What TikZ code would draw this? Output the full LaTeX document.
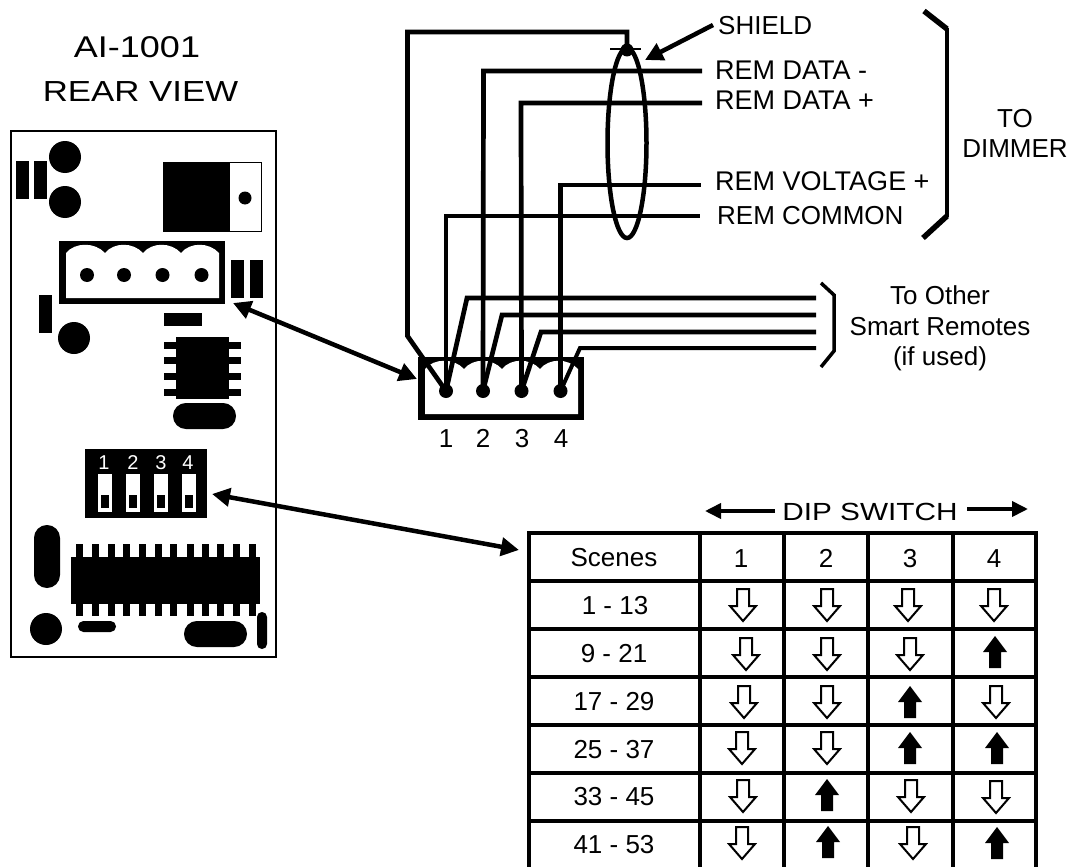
\documentclass[tikz,border=0pt]{standalone}
\usepackage{fontspec}
\setmainfont{Liberation Sans}
\newfontfamily\widefont[FakeStretch=1.2]{Liberation Sans}
\usetikzlibrary{arrows.meta}
\tikzset{
  blk/.style={fill=black,draw=none},
  lbl/.style={inner sep=0pt,font=\fontsize{26}{30}\selectfont},
  lblw/.style={lbl,anchor=base west},
  lblwl/.style={inner sep=0pt,anchor=base west,font=\fontsize{27}{30}\selectfont},
  lblc/.style={lbl,anchor=base},
  widelbl/.style={inner sep=0pt,anchor=base},
  dipnum/.style={inner sep=0pt,anchor=base,text=white,font=\fontsize{20}{22}\selectfont},
  wire/.style={line width=4.7pt},
  wirethin/.style={line width=4pt},
  tbl/.style={line width=4pt},
  ptr/.style={line width=4.5pt,-{Triangle[length=18pt,width=18pt]}},
  ptrboth/.style={line width=4.5pt,{Triangle[length=18pt,width=18pt]}-{Triangle[length=18pt,width=18pt]}},
  dimarrow/.style={line width=3.7pt,-{Triangle[length=16pt,width=15pt]}},
  dnsw/.pic={\draw[line width=2pt,fill=white,line join=miter] (-6,0) -- (6,0) -- (6,17) -- (13,17) -- (0,32) -- (-13,17) -- (-6,17) -- cycle;},
  upsw/.pic={\fill[black] (0,0) -- (12,16) -- (6,16) -- (6,32) -- (-6,32) -- (-6,16) -- (-12,16) -- cycle;},
  plug/.pic={
    \fill[black] (0,0) rectangle (166,63);
    \fill[white] (7,12) .. controls (16,1) and (36,1) .. (46,12)
      .. controls (55,1) and (74,1) .. (84,12)
      .. controls (93,1) and (112,1) .. (122,12)
      .. controls (131,1) and (150,1) .. (160,12)
      -- (160,57) -- (7,57) -- cycle;
    \coordinate (-h1) at (28,34);
    \coordinate (-h2) at (65,34);
    \coordinate (-h3) at (103.5,34);
    \coordinate (-h4) at (142.5,34);
    \foreach \hn in {h1,h2,h3,h4} \fill[black] (-\hn) circle[radius=7pt];
  }
}
\begin{document}
\begin{tikzpicture}[x=1pt,y=-1pt]
\useasboundingbox (0,0) rectangle (1071,867);

% Title
\node[widelbl,font=\widefont\fontsize{30}{34}\selectfont] (title1) at (137,58) {AI-1001};
\node[widelbl,font=\widefont\fontsize{29}{34}\selectfont] (title2) at (140.5,102) {REAR VIEW};

% Board
\draw[line width=2pt] (11,131) rectangle (276,657);
\fill[blk] (65,157) circle[radius=16pt];
\fill[blk] (65,202) circle[radius=16pt];
\fill[blk] (16,161) rectangle (29,199);
\fill[blk] (34,161) rectangle (47,199);
\fill[blk] (163,162) rectangle (229,232);
\draw[line width=1.5pt] (229,162.5) rectangle (261.5,231.5);
\fill[blk] (245,198) circle[radius=6.5pt];
\pic (lp) at (59,241) {plug};
\fill[blk] (231,260) rectangle (244,298);
\fill[blk] (250,260) rectangle (263,298);
\fill[blk] (39,295) rectangle (52,333);
\fill[blk] (164,313) rectangle (202,326);
\fill[blk] (74,338) circle[radius=16pt];
\fill[blk] (176,337) rectangle (229,399);
\foreach \py in {342,357,373,389} \fill[blk] (164,\py) rectangle (241,\py+7);
\fill[blk,rounded corners=12.9pt] (173,403) rectangle (236,429);

% DIP block
\fill[blk] (85,449) rectangle (207,518);
\foreach \dx in {98,126,154,182}{
  \fill[white] (\dx,474) rectangle (\dx+14,512);
  \fill[blk] (\dx+3,495) rectangle (\dx+11,508);
}
\node[dipnum] (dn1) at (104,469) {1};
\node[dipnum] (dn2) at (133,469) {2};
\node[dipnum] (dn3) at (161,469) {3};
\node[dipnum] (dn4) at (188,469) {4};

\fill[blk,rounded corners=12.9pt] (34,525) rectangle (60,588);
\fill[blk] (71,557) rectangle (260,604);
\foreach \px in {79.3,95.3,111.3,126.7,142,158.3,173.7,190,205.7,220.7,236.7,252.7}{
  \fill[blk] (\px-3.5,544) rectangle (\px+3.5,557);
  \fill[blk] (\px-3.5,604) rectangle (\px+3.5,616);
}
\fill[blk] (46,629) circle[radius=16pt];
\fill[blk,rounded corners=5.4pt] (78,621) rectangle (116,632);
\fill[blk,rounded corners=12.9pt] (184,621) rectangle (247,647);
\fill[blk,rounded corners=4.9pt] (257,612) rectangle (267,649);

% Right connector
\pic (rp) at (418,357) {plug};

% Named ends
\coordinate (shielddot) at (627,50);
\coordinate (eDm) at (702,71);
\coordinate (eDp) at (702,103);
\coordinate (eV) at (701,185);
\coordinate (eC) at (700,216);
\coordinate (o1) at (816,298);
\coordinate (o2) at (816,315);
\coordinate (o3) at (816,332);
\coordinate (o4) at (816,348);
\coordinate (lptip) at (233,303);
\coordinate (rptip) at (417,379);
\coordinate (diptip) at (212,494);
\coordinate (tabtip) at (519,550);
\coordinate (shieldtip) at (645,60);

% Wires
\draw[wire] (rp-h1) -- (407.5,336) -- (407.5,32) -- (627,32) -- (shielddot);
\draw[wire] (rp-h2) -- (483.5,71) -- (eDm);
\draw[wire] (rp-h3) -- (521,103) -- (eDp);
\draw[wire] (rp-h4) -- (560.5,185) -- (eV);
\draw[wire] (rp-h1) -- (446,216) -- (eC);
\draw[wire] (rp-h1) -- (467,298) -- (o1);
\draw[wire] (rp-h2) -- (502,315) -- (o2);
\draw[wire] (rp-h3) -- (541,332) -- (o3);
\draw[wirethin] (rp-h4) -- (580,348) -- (o4);

% Shield
\draw[line width=4.5pt] (627,143) ellipse[x radius=19.5pt,y radius=95pt];
\fill[blk] (shielddot) circle[radius=6.5pt];
\draw[line width=2pt] (610,49.5) -- (641,49.5);

% Labels
\node[lblw] (lshield) at (718,35) {SHIELD};
\node[lblwl] (ldm) at (715,79) {REM DATA -};
\node[lblwl] (ldp) at (715,109) {REM DATA +};
\node[lblwl] (lv) at (715,190) {REM VOLTAGE +};
\node[lblw] (lc) at (717,224) {REM COMMON};
\node[lblc] (lto) at (1015,127) {TO};
\node[lblc] (ldim) at (1015,157) {DIMMER};
\node[lblc] (lo1) at (940,304) {To Other};
\node[lblc] (lo2) at (940,335) {Smart Remotes};
\node[lblc] (lo3) at (940,365) {(if used)};
\node[lblc] (pn1) at (446,447) {1};
\node[lblc] (pn2) at (483,447) {2};
\node[lblc] (pn3) at (522,447) {3};
\node[lblc] (pn4) at (561,447) {4};

% Pointers
\draw[ptr] (713,25) -- (shieldtip);
\draw[ptrboth] (lptip) -- (rptip);
\draw[ptrboth] (diptip) -- (tabtip);

% Brackets
\draw[line width=5.5pt] (924,11) -- (947,29);
\draw[line width=4pt] (947,28) -- (947,217);
\draw[line width=5.5pt] (947,216) -- (923,238);
\draw[line width=3.5pt] (821,283) -- (834,295) -- (834,351) -- (821,367);

% DIP switch heading
\node[widelbl,font=\widefont\fontsize{24.8}{30}\selectfont] (diphead) at (870,520) {DIP SWITCH};
\coordinate (dhL) at (705,511);
\coordinate (dhR) at (1028,509);
\draw[dimarrow] (775,511) -- (dhL);
\draw[dimarrow] (967,509) -- (dhR);

% Table
\foreach \ty in {533,581,629,677,725,773,821} \draw[tbl] (527,\ty) -- (1038,\ty);
\foreach \tx in {529,700,784,868,953,1036} \draw[tbl] (\tx,531) -- (\tx,867);

\node[lblc] (th0) at (614,566) {Scenes};
\node[lblc] (th1) at (741,567) {1};
\node[lblc] (th2) at (826,567) {2};
\node[lblc] (th3) at (910,567) {3};
\node[lblc] (th4) at (994,567) {4};
\node[lblc] (r1) at (615,614) {1 - 13};
\node[lblc] (r2) at (614,662) {9 - 21};
\node[lblc] (r3) at (614,710) {17 - 29};
\node[lblc] (r4) at (614,758) {25 - 37};
\node[lblc] (r5) at (614,805) {33 - 45};
\node[lblc] (r6) at (614,853) {41 - 53};

\pic at (743,589) {dnsw}; \pic at (827,589) {dnsw}; \pic at (908,589) {dnsw}; \pic at (994,589) {dnsw};
\pic at (746,638) {dnsw}; \pic at (827,638) {dnsw}; \pic at (910,638) {dnsw}; \pic at (995,636) {upsw};
\pic at (744,686) {dnsw}; \pic at (827,686) {dnsw}; \pic at (910,686) {upsw}; \pic at (996,686) {dnsw};
\pic at (742,732) {dnsw}; \pic at (827,732) {dnsw}; \pic at (910,732) {upsw}; \pic at (997,732) {upsw};
\pic at (743,780) {dnsw}; \pic at (827,779) {upsw}; \pic at (911,780) {dnsw}; \pic at (996,781) {dnsw};
\pic at (742,827) {dnsw}; \pic at (828,826) {upsw}; \pic at (913,827) {dnsw}; \pic at (997,827) {upsw};
\end{tikzpicture}
\end{document}
